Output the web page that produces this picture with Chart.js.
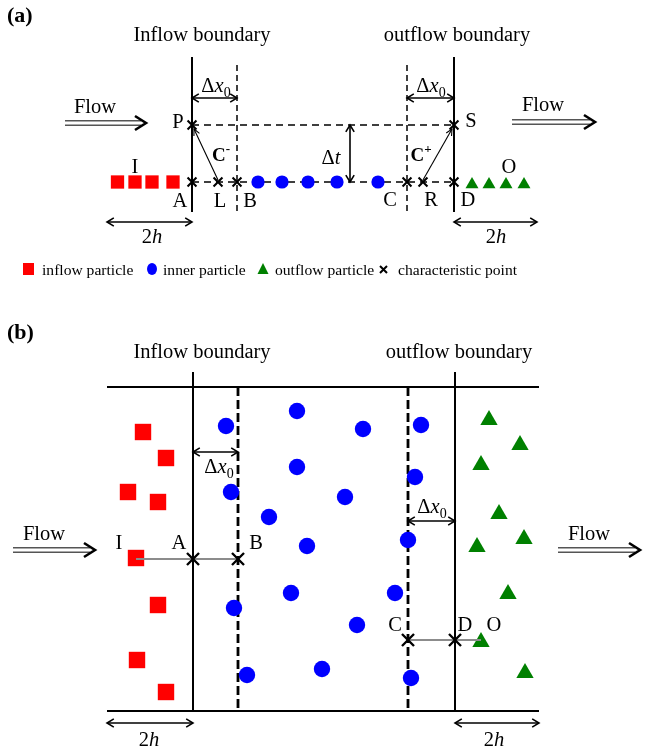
<!DOCTYPE html>
<html>
<head>
<meta charset="utf-8">
<script src="https://cdn.jsdelivr.net/npm/chart.js@4/dist/chart.umd.min.js"></script>
<style>
  html, body { margin: 0; padding: 0; background: #fff; }
  #box { width: 664px; height: 753px; }
</style>
</head>
<body>
<div id="box"><canvas id="c" width="664" height="753"></canvas></div>
<script>
// Coordinate space: x 0..664 to the right, y 0..753 downward.

// ---------- panel (a): 1-D row of particles, characteristic scheme ----------
const aRowY   = 182;                     // time level t
const aNextY  = 125;                     // time level t + Δt
const aBoundaryX = [192, 454];           // inflow / outflow boundary
const aLayerX    = [237, 407];           // inner edge of the Δx0 layers
const aInflowX  = [117.5, 135, 152, 173];
const aInflowY  = [182, 182, 182, 182];
const aInnerX   = [258, 282, 308, 337, 378];
const aInnerY   = [182, 182, 182, 182, 182];
const aOutflowX = [472, 489, 506, 524];
const aOutflowY = [184.5, 184.5, 184.5, 184.5];
const aCharNames = ['P', 'S', 'A', 'L', 'B', 'C', 'R', 'D'];
const aCharX     = [192, 454, 192, 218, 237, 407, 423, 454];
const aCharY     = [125, 125, 182, 182, 182, 182, 182, 182];

// ---------- panel (b): 2-D particle cloud near the boundaries ----------
const bBoundaryX = [193, 455];
const bLayerX    = [238, 408];
const bWallY     = [387, 711];
const bInflowX = [143, 166, 128, 158, 136, 158, 137, 166];
const bInflowY = [432, 458, 492, 502, 558, 605, 660, 692];
const bInnerX  = [226, 297, 363, 421, 297, 415, 231, 345, 269, 307, 408, 291, 395, 234, 357, 247, 322, 411];
const bInnerY  = [426, 411, 429, 425, 467, 477, 492, 497, 517, 546, 540, 593, 593, 608, 625, 675, 669, 678];
const bOutflowX = [489, 520, 481, 499, 477, 524, 508, 481, 525];
const bOutflowY = [420, 445, 465, 514, 547, 539, 594, 642, 673];
const bCharNames = ['A', 'B', 'C', 'D'];
const bCharX     = [193, 238, 408, 455];
const bCharY     = [559, 559, 640, 640];
const bLinkI = [136, 559];               // inflow particle I linked to A, B
const bLinkO = [481, 640];               // outflow particle O linked to C, D

const legendLabels = ['inflow particle', 'inner particle', 'outflow particle', 'characteristic point'];

const RED = '#ff0000', BLUE = '#0000ff', GREEN = '#008000';
const FONT = '"Liberation Serif", "Times New Roman", serif';

const pts = (xs, ys) => xs.map((x, i) => ({ x, y: ys[i] }));

function seg(x1, y1, x2, y2, width, dash, color, order) {
  return {
    type: 'scatter', showLine: true,
    data: [{ x: x1, y: y1 }, { x: x2, y: y2 }],
    borderColor: color || '#000', borderWidth: width, borderDash: dash || [],
    pointRadius: 0, fill: false, tension: 0, order: order == null ? 20 : order
  };
}
function particles(data, style, r, color, order) {
  return {
    type: 'scatter', data, pointStyle: style, pointRadius: r,
    backgroundColor: color, borderColor: color, borderWidth: 0, order: order == null ? 5 : order
  };
}
function crosses(data, r, w) {
  return {
    type: 'scatter', data, pointStyle: 'crossRot', pointRadius: r,
    borderColor: '#000', backgroundColor: '#000', borderWidth: w, order: 0
  };
}

const datasets = [
  // panel (a) framework
  seg(aBoundaryX[0], 57, aBoundaryX[0], 212, 2),
  seg(aBoundaryX[1], 57, aBoundaryX[1], 212, 2),
  seg(aLayerX[0], 65, aLayerX[0], 212, 1.5, [6, 4]),
  seg(aLayerX[1], 65, aLayerX[1], 212, 1.5, [6, 4]),
  seg(aBoundaryX[0], aNextY, aBoundaryX[1], aNextY, 1.5, [7, 5]),
  seg(aBoundaryX[0], aRowY, aBoundaryX[1], aRowY, 1.5, [7, 5]),
  // panel (a) particles
  particles(pts(aInflowX, aInflowY), 'rect', 9.4, RED),
  particles(pts(aInnerX, aInnerY), 'circle', 6.6, BLUE),
  particles(pts(aOutflowX, aOutflowY), 'triangle', 7.5, GREEN),
  crosses(pts(aCharX, aCharY), 6.3, 2.1),

  // panel (b) framework
  seg(107, bWallY[0], 539, bWallY[0], 2),
  seg(107, bWallY[1], 539, bWallY[1], 2),
  seg(bBoundaryX[0], 372, bBoundaryX[0], bWallY[1], 2),
  seg(bBoundaryX[1], 372, bBoundaryX[1], bWallY[1], 2),
  seg(bLayerX[0], bWallY[0], bLayerX[0], bWallY[1], 2.8, [9, 4]),
  seg(bLayerX[1], bWallY[0], bLayerX[1], bWallY[1], 2.8, [9, 4]),
  // panel (b) particles
  particles(pts(bInflowX, bInflowY), 'rect', 11.6, RED),
  particles(pts(bInnerX, bInnerY), 'circle', 8.2, BLUE),
  particles(pts(bOutflowX, bOutflowY), 'triangle', 10, GREEN),
  seg(bLinkI[0], bLinkI[1], bCharX[1], bCharY[1], 2, [], '#8c8c8c', 2),
  seg(bCharX[2], bCharY[2], bLinkO[0], bLinkO[1], 2, [], '#8c8c8c', 2),
  crosses(pts(bCharX, bCharY), 8.5, 2.4)
];

// ---------- annotation drawing (text, arrows, legend) ----------
const annotations = {
  id: 'annotations',
  afterDatasetsDraw(chart) {
    const ctx = chart.ctx;
    const X = v => chart.scales.x.getPixelForValue(v);
    const Y = v => chart.scales.y.getPixelForValue(v);

    function font(size, italic, bold) {
      return (italic ? 'italic ' : '') + (bold ? 'bold ' : '') + size + 'px ' + FONT;
    }
    // parts: [text, {i, b, size, dy}]
    function rich(parts, cx, by, size, align) {
      const widths = parts.map(([t, o]) => {
        ctx.font = font((o && o.size) || size, o && o.i, o && o.b);
        return ctx.measureText(t).width;
      });
      const total = widths.reduce((s, w) => s + w, 0);
      let x = X(cx);
      if (align !== 'left') x -= total / 2;
      ctx.textAlign = 'left';
      ctx.textBaseline = 'alphabetic';
      ctx.fillStyle = '#000';
      parts.forEach(([t, o], k) => {
        ctx.font = font((o && o.size) || size, o && o.i, o && o.b);
        ctx.fillText(t, x, Y(by) + ((o && o.dy) || 0));
        x += widths[k];
      });
    }
    const label = (t, cx, by, size) => rich([[t]], cx, by, size || 20.5);

    function head(tx, ty, fx, fy, len, spread) {
      const ang = Math.atan2(ty - fy, tx - fx);
      ctx.beginPath();
      ctx.moveTo(tx - len * Math.cos(ang - spread), ty - len * Math.sin(ang - spread));
      ctx.lineTo(tx, ty);
      ctx.lineTo(tx - len * Math.cos(ang + spread), ty - len * Math.sin(ang + spread));
      ctx.stroke();
    }
    function arrow(x1, y1, x2, y2, opt) {
      const a = [X(x1), Y(y1)], b = [X(x2), Y(y2)];
      ctx.save();
      ctx.strokeStyle = '#000';
      ctx.lineWidth = opt.lw;
      ctx.lineJoin = 'miter';
      ctx.beginPath(); ctx.moveTo(a[0], a[1]); ctx.lineTo(b[0], b[1]); ctx.stroke();
      head(b[0], b[1], a[0], a[1], opt.len, opt.spread);
      if (opt.both) head(a[0], a[1], b[0], b[1], opt.len, opt.spread);
      ctx.restore();
    }
    const dim = (x1, y1, x2, y2) => arrow(x1, y1, x2, y2, { lw: 1.6, len: 8, spread: 0.55, both: true });

    function flow(x1, x2, y) {
      const a = X(x1), b = X(x2), c = Y(y);
      ctx.save();
      ctx.strokeStyle = '#555';
      ctx.lineWidth = 1.4;
      ctx.beginPath();
      ctx.moveTo(a, c - 2.3); ctx.lineTo(b - 5, c - 2.3);
      ctx.moveTo(a, c + 2.3); ctx.lineTo(b - 5, c + 2.3);
      ctx.stroke();
      ctx.strokeStyle = '#000';
      ctx.lineWidth = 2.6;
      ctx.beginPath();
      ctx.moveTo(b - 11, c - 7); ctx.lineTo(b, c); ctx.lineTo(b - 11, c + 7);
      ctx.stroke();
      ctx.restore();
    }
    const dx0 = (cx, by) => rich([['Δ'], ['x', { i: true }], ['0', { size: 14, dy: 5 }]], cx, by, 20.5);
    const twoH = (cx, by) => rich([['2'], ['h', { i: true }]], cx, by, 20.5);

    // ---- panel (a) ----
    rich([['(a)', { b: true }]], 7, 22, 22, 'left');
    label('Inflow boundary', 202, 41);
    label('outflow boundary', 457, 41);
    flow(65, 146, 123);
    label('Flow', 95, 113);
    flow(512, 595, 122);
    label('Flow', 543, 111);

    dim(aBoundaryX[0], 98, aLayerX[0], 98);
    dx0(216, 92);
    dim(aLayerX[1], 98, aBoundaryX[1], 98);
    dx0(431, 92);

    dim(350, aNextY, 350, aRowY);
    rich([['Δ'], ['t', { i: true }]], 331, 164, 20.5);

    // characteristic lines C- and C+
    arrow(aCharX[3], aRowY - 2, aBoundaryX[0] + 2, aNextY + 4, { lw: 1.1, len: 7, spread: 0.45 });
    arrow(aCharX[6], aRowY - 2, aBoundaryX[1] - 2, aNextY + 4, { lw: 1.1, len: 7, spread: 0.45 });
    rich([['C', { b: true }], ['-', { b: true, size: 13, dy: -8 }]], 221, 161, 19);
    rich([['C', { b: true }], ['+', { b: true, size: 13, dy: -8 }]], 421, 161, 19);

    const aLabelPos = { P: [178, 128], S: [471, 127], A: [180, 207], L: [220, 207],
                        B: [250, 207], C: [390, 206], R: [431, 206], D: [468, 206] };
    aCharNames.forEach(n => label(n, aLabelPos[n][0], aLabelPos[n][1]));
    label('I', 135, 173);
    label('O', 509, 173);

    dim(107, 222, aBoundaryX[0], 222);
    twoH(152, 243);
    dim(aBoundaryX[1], 222, 537, 222);
    twoH(496, 243);

    // legend
    ctx.save();
    ctx.fillStyle = RED;
    ctx.fillRect(X(23), Y(263), 11, 12);
    ctx.fillStyle = BLUE;
    ctx.beginPath(); ctx.ellipse(X(152), Y(269), 5, 6, 0, 0, Math.PI * 2); ctx.fill();
    ctx.fillStyle = GREEN;
    ctx.beginPath(); ctx.moveTo(X(263), Y(263)); ctx.lineTo(X(268.5), Y(274)); ctx.lineTo(X(257.5), Y(274)); ctx.closePath(); ctx.fill();
    ctx.strokeStyle = '#000'; ctx.lineWidth = 2;
    ctx.beginPath();
    ctx.moveTo(X(380), Y(266)); ctx.lineTo(X(387), Y(273));
    ctx.moveTo(X(387), Y(266)); ctx.lineTo(X(380), Y(273));
    ctx.stroke();
    ctx.restore();
    const legendX = [42, 163, 275, 398];
    legendLabels.forEach((t, k) => rich([[t]], legendX[k], 275, 15.6, 'left'));

    // ---- panel (b) ----
    rich([['(b)', { b: true }]], 7, 339, 22, 'left');
    label('Inflow boundary', 202, 358);
    label('outflow boundary', 459, 358);
    flow(13, 95, 550);
    label('Flow', 44, 540);
    flow(558, 640, 550);
    label('Flow', 589, 540);

    dim(bBoundaryX[0], 452, bLayerX[0], 452);
    dx0(219, 473);
    dim(bLayerX[1], 521, bBoundaryX[1], 521);
    dx0(432, 513);

    const bLabelPos = { A: [179, 549], B: [256, 549], C: [395, 631], D: [465, 631] };
    bCharNames.forEach(n => label(n, bLabelPos[n][0], bLabelPos[n][1]));
    label('I', 119, 549);
    label('O', 494, 631);

    dim(107, 723, bBoundaryX[0], 723);
    twoH(149, 746);
    dim(bBoundaryX[1], 723, 539, 723);
    twoH(494, 746);
  }
};

new Chart(document.getElementById('c'), {
  type: 'scatter',
  data: { datasets },
  options: {
    responsive: false,
    devicePixelRatio: 1,
    animation: false,
    events: [],
    layout: { padding: 0, autoPadding: false },
    scales: {
      x: { type: 'linear', min: 0, max: 664, display: false },
      y: { type: 'linear', min: 0, max: 753, reverse: true, display: false }
    },
    plugins: { legend: { display: false }, tooltip: { enabled: false } }
  },
  plugins: [annotations]
});
</script>
</body>
</html>
